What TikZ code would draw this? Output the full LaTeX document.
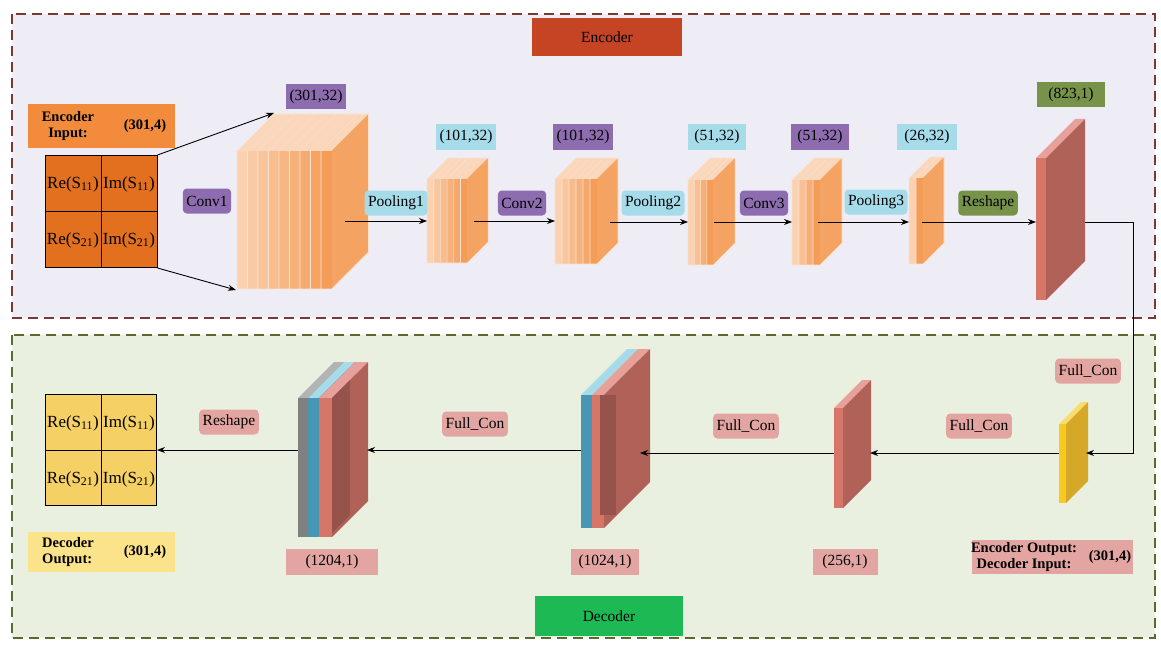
\documentclass[tikz,border=0pt]{standalone}
\usepackage{fontspec}
\setmainfont{Liberation Serif}
\usetikzlibrary{arrows.meta}
\definecolor{encbg}{RGB}{238,237,245}
\definecolor{decbg}{RGB}{234,240,224}
\definecolor{encb}{RGB}{122,58,50}
\definecolor{decb}{RGB}{90,106,50}
\definecolor{ora}{RGB}{242,140,60}
\definecolor{gridor}{RGB}{226,112,30}
\definecolor{gridye}{RGB}{245,208,100}
\definecolor{cyanl}{RGB}{166,220,234}
\definecolor{purl}{RGB}{142,108,176}
\definecolor{greenl}{RGB}{119,147,74}
\definecolor{pinkl}{RGB}{227,165,161}
\definecolor{redf}{RGB}{214,118,104}
\definecolor{redt}{RGB}{232,160,154}
\definecolor{reds}{RGB}{176,98,88}
\definecolor{yelf}{RGB}{250,200,30}
\definecolor{yels}{RGB}{214,168,40}
\definecolor{yelt}{RGB}{250,220,110}
\definecolor{tealf}{RGB}{70,150,180}
\definecolor{grayf}{RGB}{128,128,128}
\newcommand{\myslab}[8]{%
  \fill[#7] (#1,#2) -- ++(#5,-#5) -- ++(#4,0) -- ++(-#5,#5) -- cycle;
  \fill[#8] (#1+#4,#2) -- ++(#5,-#5) -- ++(0,#3-#2) -- ++(-#5,#5) -- cycle;
  \fill[#6] (#1,#2) rectangle (#1+#4,#3);}
\newcommand{\mystack}[6]{% x0, ytop, ybot, w, depth, n
  \foreach \i in {1,...,#6}{%
    \pgfmathsetmacro{\p}{40+45*(\i-1)/max(#6-1,1)}%
    \pgfmathsetmacro{\xx}{#1+(\i-1)*#4}%
    \myslab{\xx}{#2}{#3}{#4}{#5}{ora!\p!white}{ora!35!white}{ora!80!white}
    \draw[ora!25!white,line width=0.6] (\xx,#3) -- (\xx,#2) -- ++(#5,-#5) -- ++(#4,0) -- ++(0,#3-#2) -- ++(-#5,#5) -- cycle;}}
\begin{document}
\begin{tikzpicture}[x=1pt,y=-1pt,
  lab/.style={minimum height=25, inner sep=3.5, font=\fontsize{15.5}{17}\selectfont},
  blab/.style={lab, rounded corners=4},
  arr/.style={-{Stealth[length=8,width=6]}, line width=0.9},
  bt/.style={font=\bfseries\fontsize{14.5}{16}\selectfont},
  gt/.style={font=\fontsize{17}{19}\selectfont, inner sep=0}]
\useasboundingbox (0,0) rectangle (1161,650);
\fill[white] (0,0) rectangle (1161,650);
% frames
\draw[encb, line width=1.6, dash pattern=on 10 off 6, fill=encbg] (12,14) rectangle (1155,318);
\draw[decb, line width=1.6, dash pattern=on 10 off 6, fill=decbg] (12,335) rectangle (1155,638);
\node[lab, fill={rgb,255:red,196;green,68;blue,36}, minimum width=150, minimum height=38] (enc) at (607,37) {Encoder};
\node[lab, fill={rgb,255:red,29;green,185;blue,84}, minimum width=148, minimum height=40] (dec) at (609,616) {Decoder};
% encoder input
\node[fill=ora, minimum width=147, minimum height=44, inner sep=0] (einl) at (101,126) {};
\node[bt, align=center] (einlt) at (68,126) {Encoder\\Input:};
\node[bt] (einlv) at (145,126) {(301,4)};
\node[draw, line width=1, fill=gridor, minimum size=112, inner sep=0] (eg) at (101,211.5) {};
\draw[line width=0.8] (eg.north) -- (eg.south) (eg.west) -- (eg.east);
\node[gt] (eg1) at (73,184) {Re(S\textsubscript{11})};
\node[gt] (eg2) at (129,184) {Im(S\textsubscript{11})};
\node[gt] (eg3) at (73,240) {Re(S\textsubscript{21})};
\node[gt] (eg4) at (129,240) {Im(S\textsubscript{21})};
% conv1
\mystack{237}{151}{289}{10.5}{37}{9}
\coordinate (c1a) at (274,113);
\coordinate (c1b) at (236,290);
\draw[arr] (eg.north east) -- (c1a);
\draw[arr] (eg.south east) -- (c1b);
\node[blab, fill=purl] (conv1) at (207,201) {Conv1};
\node[lab, fill=purl, minimum width=58] (l1) at (316,97) {(301,32)};
% pool1
\mystack{427}{179}{263}{6.7}{21}{6}
\node[lab, fill=cyanl, minimum width=58] (l2) at (466,137) {(101,32)};
\node[blab, fill=cyanl] (pool1) at (396,203) {Pooling1};
% conv2
\mystack{555}{179}{264}{7}{21}{6}
\node[lab, fill=purl, minimum width=60] (l3) at (583,137) {(101,32)};
\node[blab, fill=purl] (conv2) at (522,203) {Conv2};
% pool2
\mystack{688}{180}{265}{6.3}{22}{4}
\node[lab, fill=cyanl, minimum width=58] (l4) at (717,137) {(51,32)};
\node[blab, fill=cyanl] (pool2) at (653,203) {Pooling2};
% conv3
\mystack{792}{180}{265}{7}{22}{4}
\node[lab, fill=purl, minimum width=58] (l5) at (820,137) {(51,32)};
\node[blab, fill=purl] (conv3) at (764,203) {Conv3};
% pool3
\mystack{909}{178}{264}{7}{21}{2}
\node[lab, fill=cyanl, minimum width=60] (l6) at (927,137) {(26,32)};
\node[blab, fill=cyanl] (pool3) at (876,202) {Pooling3};
% reshape slab
\myslab{1036}{158}{300}{10}{39}{redf}{redt}{reds}
\node[lab, fill=greenl, minimum width=68, minimum height=25] (l7) at (1071,95) {(823,1)};
\node[blab, fill=greenl] (resh) at (988,203) {Reshape};
% encoder arrows
\coordinate (a1s) at (345,221); \coordinate (a1e) at (427,221);
\coordinate (a2s) at (474,221); \coordinate (a2e) at (555,221);
\coordinate (a3s) at (610,222); \coordinate (a3e) at (688,222);
\coordinate (a4s) at (714,222); \coordinate (a4e) at (792,222);
\coordinate (a5s) at (818,222); \coordinate (a5e) at (909,222);
\coordinate (a6s) at (922,222); \coordinate (a6e) at (1036,222);
\foreach \s/\e in {a1s/a1e,a2s/a2e,a3s/a3e,a4s/a4e,a5s/a5e,a6s/a6e} \draw[arr] (\s) -- (\e);
% decoder
\myslab{1059}{424}{503}{7}{22}{yelf}{yelt}{yels}
\coordinate (r1) at (1085,222); \coordinate (r2) at (1086,453);
\draw[arr] (r1) -- (1133,222) -- (1133,453) -- (r2);
\node[blab, fill=pinkl] (fc1) at (1088,371) {Full\_Con};
\node[fill=pinkl, minimum width=161, minimum height=34, inner sep=0] (eol) at (1052,557) {};
\node[bt, align=center] (eolt) at (1024,557) {Encoder Output:\\Decoder Input:};
\node[bt] (eolv) at (1110,557) {(301,4)};
% 256
\myslab{834}{408}{508}{9}{28}{redf}{redt}{reds}
\node[lab, fill=pinkl, minimum width=65, minimum height=26] (l256) at (845,562) {(256,1)};
\node[blab, fill=pinkl] (fc2) at (979,426) {Full\_Con};
% 1024
\myslab{581}{395}{528}{12}{46}{tealf}{cyanl}{tealf}
\myslab{592}{395}{528}{12}{46}{redf}{redt}{reds}
\fill[reds!85!black] (600,395) rectangle (616,515);
\node[lab, fill=pinkl, minimum width=68, minimum height=26] (l1024) at (605,562) {(1024,1)};
\node[blab, fill=pinkl] (fc3) at (746,426) {Full\_Con};
% 1204
\myslab{298}{398}{537}{10}{36}{grayf}{grayf!60!white}{grayf}
\myslab{308}{398}{537}{11}{36}{tealf}{cyanl}{tealf}
\myslab{319}{398}{537}{13}{36}{redf}{redt}{reds}
\fill[reds!85!black] (332,398) -- (350,380) -- (350,515) -- (332,533) -- cycle;
\node[lab, fill=pinkl, minimum width=92, minimum height=26] (l1204) at (332,562) {(1204,1)};
\node[blab, fill=pinkl] (fc4) at (475,424) {Full\_Con};
\node[blab, fill=pinkl] (resh2) at (229,422) {Reshape};
% decoder grid
\node[draw, line width=1, fill=gridye, minimum size=111, inner sep=0] (dg) at (101,450) {};
\draw[line width=0.8] (dg.north) -- (dg.south) (dg.west) -- (dg.east);
\node[gt] (dg1) at (73,423) {Re(S\textsubscript{11})};
\node[gt] (dg2) at (129,423) {Im(S\textsubscript{11})};
\node[gt] (dg3) at (73,479) {Re(S\textsubscript{21})};
\node[gt] (dg4) at (129,479) {Im(S\textsubscript{21})};
\node[fill=yelt!80!white, minimum width=147, minimum height=40, inner sep=0] (dol) at (101,552) {};
\node[bt, align=left] (dolt) at (68,552) {Decoder\\Output:};
\node[bt] (dolv) at (145,552) {(301,4)};
% decoder arrows
\coordinate (d1s) at (1059,453); \coordinate (d1e) at (870,453);
\coordinate (d2s) at (834,453); \coordinate (d2e) at (640,453);
\coordinate (d3s) at (581,450); \coordinate (d3e) at (367,450);
\coordinate (d4s) at (298,450);
\foreach \s/\e in {d1s/d1e,d2s/d2e,d3s/d3e} \draw[arr] (\s) -- (\e);
\draw[arr] (d4s) -- (dg.east);
\end{tikzpicture}
\end{document}
